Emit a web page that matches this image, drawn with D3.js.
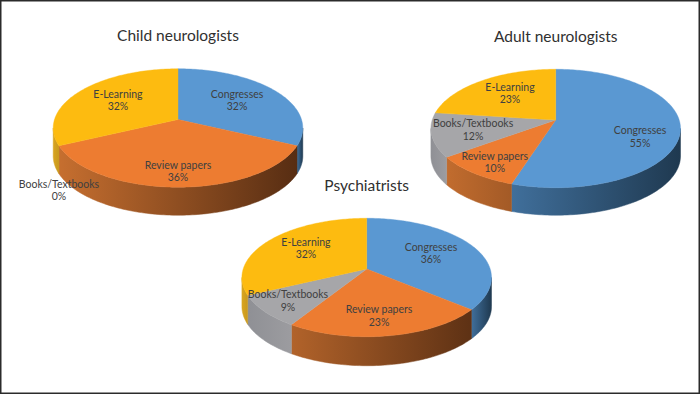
<!DOCTYPE html>
<html>
<head>
<meta charset="utf-8">
<script src="https://cdnjs.cloudflare.com/ajax/libs/d3/7.8.5/d3.min.js"></script>
<style>
  html, body { margin: 0; padding: 0; background: #fff; }
  svg { display: block; }
  text { font-family: Lato, "Open Sans", sans-serif; text-anchor: middle; }
</style>
</head>
<body>
<div id="chart"></div>
<script>
// values, clockwise from 12 o'clock
var categories = ["Congresses", "Review papers", "Books/Textbooks", "E-Learning"];
var childValues = [32, 36, 0, 32];
var adultValues = [55, 10, 12, 23];
var psychValues = [36, 23, 9, 32];
var titles = ["Child neurologists", "Adult neurologists", "Psychiatrists"];

var colors = ["#5a98d2", "#ed7c31", "#a6a6a9", "#fdbb10"];
var sideLight = ["#406f9b", "#c87030", "#8f9095", "#d9a520"];
var sideDark = ["#1f3950", "#552c12", "#9c9ca0", "#c8981e"];
// orange wall shading spans the whole pie, the others just their own slice
var shadeWholePie = [false, true, false, false];

// pie placement; labelNudge shifts each label from its slice centroid
var pies = [
    { values: childValues, title: titles[0], cx: 178, cy: 119.5, titleY: 36, depth: 28,
      labelNudge: [[-1, -4], [0, 7.5], [0, 0], [0, -4]] },
    { values: adultValues, title: titles[1], cx: 555.7, cy: 120, titleY: 36.5, depth: 27.5,
      labelNudge: [[7, 8.5], [-10, 6.6], [-5.7, -1.8], [0, -5]] },
    { values: psychValues, title: titles[2], cx: 366.7, cy: 269, titleY: 186, depth: 29,
      labelNudge: [[-1, -4], [-1.6, 3], [-15.3, 3.2], [-0.7, -5.6]] }
];
var zeroLabel = [-119, 68]; // Books/Textbooks 0% hangs outside the child pie

var w = 700;
var h = 394;

// perspective of the disc, so the apex sits above the ellipse centre
var radiusX = 123.5;
var radiusY = 58;
var tilt = 0.1435;

var svg = d3.select("#chart")
            .append("svg")
            .attr("width", w)
            .attr("height", h);

svg.append("rect")
   .attr("x", 0.75).attr("y", 0.75)
   .attr("width", w - 1.5).attr("height", h - 1.5)
   .attr("fill", "#fff")
   .attr("stroke", "#2b2b2b")
   .attr("stroke-width", 1.5);

var defs = svg.append("defs");
var pieLayout = d3.pie().sort(null).startAngle(0).endAngle(2 * Math.PI);
var lineGen = d3.line();

pies.forEach(function(p, pieIndex) {
    var xScale = d3.scaleLinear().domain([-1, 1]).range([p.cx - radiusX, p.cx + radiusX]);
    var yScale = d3.scaleLinear().domain([-1, 1]).range([p.cy - radiusY, p.cy + radiusY]);

    function project(a) {
        var d = 1 + tilt * Math.cos(a);
        return [xScale(Math.sin(a) / d), yScale(-Math.cos(a) / d)];
    }
    function arcPoints(a0, a1) {
        var n = Math.max(2, Math.ceil((a1 - a0) / 0.02));
        return d3.range(n + 1).map(function(i) { return project(a0 + (a1 - a0) * i / n); });
    }

    var g = svg.append("g");
    var slices = pieLayout(p.values);
    var silhouette = Math.acos(-tilt);

    // walls: only the part of each slice on the near side of the disc
    slices.forEach(function(s, i) {
        var a0 = Math.max(s.startAngle, silhouette);
        var a1 = Math.min(s.endAngle, 2 * Math.PI - silhouette);
        if (a1 <= a0) return;
        var top = arcPoints(a0, a1);
        var bottom = top.map(function(q) { return [q[0], q[1] + p.depth]; }).reverse();

        var xs = d3.extent(top, function(q) { return q[0]; });
        if (shadeWholePie[i]) xs = [p.cx - radiusX, p.cx + radiusX];
        var id = "side" + pieIndex + "-" + i;
        var grad = defs.append("linearGradient")
                       .attr("id", id)
                       .attr("gradientUnits", "userSpaceOnUse")
                       .attr("x1", xs[0]).attr("x2", xs[1])
                       .attr("y1", 0).attr("y2", 0);
        grad.append("stop").attr("offset", 0).attr("stop-color", sideLight[i]);
        grad.append("stop").attr("offset", 1).attr("stop-color", sideDark[i]);

        g.append("path")
         .attr("d", lineGen(top.concat(bottom)) + "Z")
         .attr("fill", "url(#" + id + ")")
         .attr("stroke", "url(#" + id + ")")
         .attr("stroke-width", 0.5);
    });

    // top faces
    slices.forEach(function(s, i) {
        if (s.endAngle <= s.startAngle) return;
        var pts = [[p.cx, p.cy]].concat(arcPoints(s.startAngle, s.endAngle));
        g.append("path")
         .attr("d", lineGen(pts) + "Z")
         .attr("fill", colors[i])
         .attr("stroke", colors[i])
         .attr("stroke-width", 0.4);
    });

    // labels
    slices.forEach(function(s, i) {
        var mid = (s.startAngle + s.endAngle) / 2;
        var c = project(mid);
        var lx = p.cx + (c[0] - p.cx) * 0.62 + p.labelNudge[i][0];
        var ly = p.cy + (c[1] - p.cy) * 0.62 + p.labelNudge[i][1];
        if (s.value === 0) {
            lx = p.cx + zeroLabel[0];
            ly = p.cy + zeroLabel[1];
        }
        var t = g.append("text")
                 .attr("font-size", 10.5)
                 .attr("fill", "#404040")
                 .attr("x", lx)
                 .attr("y", ly);
        t.append("tspan").attr("x", lx).text(categories[i]);
        t.append("tspan").attr("x", lx).attr("dy", 12.3).text(s.value + "%");
    });

    g.append("text")
     .attr("x", p.cx)
     .attr("y", p.titleY + 5)
     .attr("font-size", 15.5)
     .attr("fill", "#303030")
     .text(p.title);
});
</script>
</body>
</html>
